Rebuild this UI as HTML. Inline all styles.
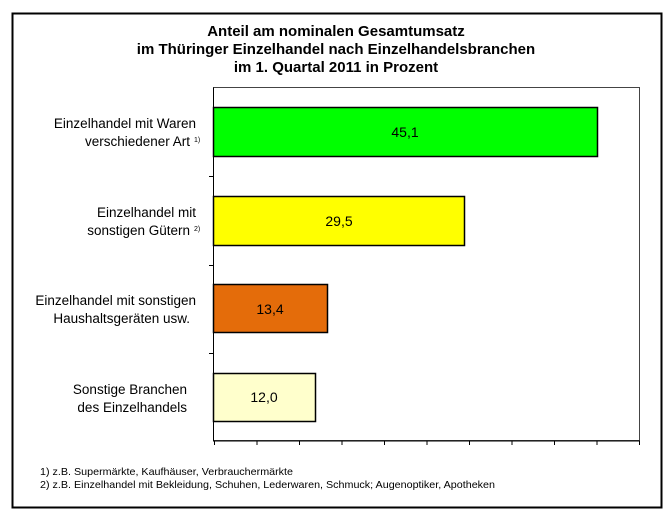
<!DOCTYPE html><html><head><meta charset="utf-8"><style>
body{margin:0;background:#fff;}
svg{display:block;font-family:"Liberation Sans",Arial,sans-serif;}
</style></head><body>
<svg width="668" height="520" viewBox="0 0 668 520">
<rect x="0" y="0" width="668" height="520" fill="#fff"/>
<rect x="12.5" y="13.5" width="649" height="494" fill="none" stroke="#000" stroke-width="2"/>
<g font-weight="bold" font-size="15" text-anchor="middle" fill="#000">
<text x="336" y="36">Anteil am nominalen Gesamtumsatz</text>
<text x="336" y="54">im Thüringer Einzelhandel nach Einzelhandelsbranchen</text>
<text x="336" y="72">im 1. Quartal 2011 in Prozent</text>
</g>
<rect x="213.5" y="87.5" width="426" height="353" fill="none" stroke="#444" stroke-width="1"/>
<line x1="213.5" y1="87.5" x2="213.5" y2="441" stroke="#000"/>
<line x1="213" y1="441" x2="640" y2="441" stroke="#000"/>
<g stroke="#000">
<line x1="214.5" y1="441" x2="214.5" y2="445"/><line x1="257" y1="441" x2="257" y2="445"/><line x1="299.5" y1="441" x2="299.5" y2="445"/><line x1="342" y1="441" x2="342" y2="445"/><line x1="384.5" y1="441" x2="384.5" y2="445"/><line x1="427" y1="441" x2="427" y2="445"/><line x1="469.5" y1="441" x2="469.5" y2="445"/><line x1="512" y1="441" x2="512" y2="445"/><line x1="554.5" y1="441" x2="554.5" y2="445"/><line x1="597" y1="441" x2="597" y2="445"/><line x1="639.5" y1="441" x2="639.5" y2="445"/>
<line x1="209" y1="176.5" x2="213" y2="176.5"/><line x1="209" y1="265.5" x2="213" y2="265.5"/><line x1="209" y1="353.5" x2="213" y2="353.5"/>
</g>
<rect x="213.5" y="107.5" width="384" height="49" fill="#00ff00" stroke="#000" stroke-width="1.5"/>
<rect x="213.5" y="196.5" width="251" height="49" fill="#ffff00" stroke="#000" stroke-width="1.5"/>
<rect x="213.5" y="284.5" width="114" height="48" fill="#e46c0a" stroke="#000" stroke-width="1.5"/>
<rect x="213.5" y="373.5" width="102" height="48" fill="#ffffcc" stroke="#000" stroke-width="1.5"/>
<g font-size="14" text-anchor="middle" fill="#000">
<text x="405" y="137">45,1</text>
<text x="339" y="226">29,5</text>
<text x="270" y="314">13,4</text>
<text x="264" y="402">12,0</text>
</g>
<g font-size="13.5" text-anchor="end" fill="#000">
<text x="196" y="128">Einzelhandel mit Waren</text>
<text x="190" y="146">verschiedener Art</text>
<text x="196" y="217">Einzelhandel mit</text>
<text x="190" y="235">sonstigen Gütern</text>
<text x="196" y="305">Einzelhandel mit sonstigen</text>
<text x="190" y="323">Haushaltsgeräten usw.</text>
<text x="187" y="394">Sonstige Branchen</text>
<text x="187" y="412">des Einzelhandels</text>
</g>
<g font-size="7" fill="#000"><text x="194" y="142">1)</text><text x="194" y="231">2)</text></g>
<g font-size="10.5" fill="#000">
<text x="40" y="475" textLength="253" lengthAdjust="spacingAndGlyphs">1) z.B. Supermärkte, Kaufhäuser, Verbrauchermärkte</text>
<text x="40" y="488" textLength="455" lengthAdjust="spacingAndGlyphs">2) z.B. Einzelhandel mit Bekleidung, Schuhen, Lederwaren, Schmuck; Augenoptiker, Apotheken</text>
</g>
</svg>
</body></html>
